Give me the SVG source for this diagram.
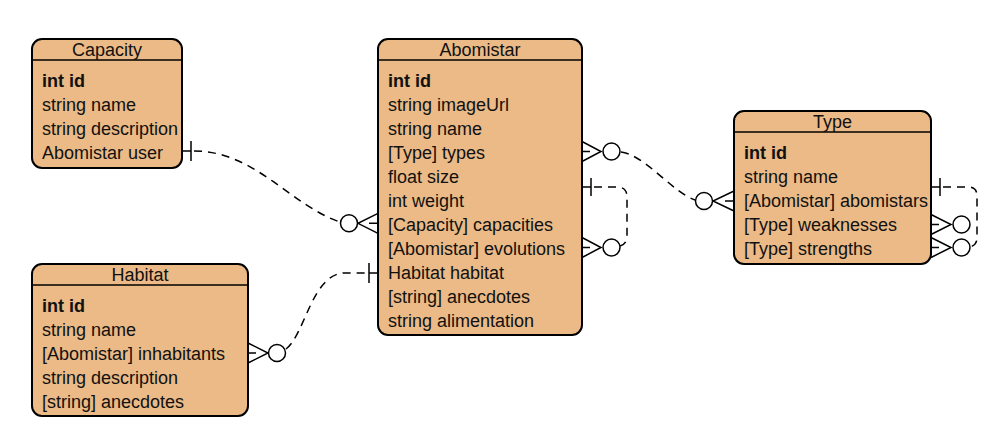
<svg xmlns="http://www.w3.org/2000/svg" width="1000" height="447" viewBox="0 0 1000 447">
<style>
.box{fill:#EBBA86;stroke:#000;stroke-width:2}
.sep{stroke:#000;stroke-width:1.6}
.t{font-family:"Liberation Sans",Arial,sans-serif;font-size:18px;fill:#111}
.h{text-anchor:middle}
.b{font-weight:bold}
.ln{fill:none;stroke:#000;stroke-width:1.5}
.dash{fill:none;stroke:#000;stroke-width:1.5;stroke-dasharray:8 6}
.circ{fill:#fff;stroke:#000;stroke-width:1.5}
</style>
<rect width="1000" height="447" fill="#fff"/>
<g id="Capacity">
<rect class="box" x="32" y="39" width="150" height="129" rx="10"/>
<line class="sep" x1="32" y1="60" x2="182" y2="60"/>
<text class="t h" x="107" y="56">Capacity</text>
<text class="t b" x="42" y="87">int id</text>
<text class="t" x="42" y="111">string name</text>
<text class="t" x="42" y="135">string description</text>
<text class="t" x="42" y="159">Abomistar user</text>
</g>
<g id="Abomistar">
<rect class="box" x="378" y="39" width="204" height="296" rx="10"/>
<line class="sep" x1="378" y1="60" x2="582" y2="60"/>
<text class="t h" x="480" y="56">Abomistar</text>
<text class="t b" x="388" y="87">int id</text>
<text class="t" x="388" y="111">string imageUrl</text>
<text class="t" x="388" y="135">string name</text>
<text class="t" x="388" y="159">[Type] types</text>
<text class="t" x="388" y="183">float size</text>
<text class="t" x="388" y="207">int weight</text>
<text class="t" x="388" y="231">[Capacity] capacities</text>
<text class="t" x="388" y="255">[Abomistar] evolutions</text>
<text class="t" x="388" y="279">Habitat habitat</text>
<text class="t" x="388" y="303">[string] anecdotes</text>
<text class="t" x="388" y="327">string alimentation</text>
</g>
<g id="Type">
<rect class="box" x="734" y="111" width="197" height="153" rx="10"/>
<line class="sep" x1="734" y1="132" x2="931" y2="132"/>
<text class="t h" x="832.5" y="128">Type</text>
<text class="t b" x="744" y="159">int id</text>
<text class="t" x="744" y="183">string name</text>
<text class="t" x="744" y="207">[Abomistar] abomistars</text>
<text class="t" x="744" y="231">[Type] weaknesses</text>
<text class="t" x="744" y="255">[Type] strengths</text>
</g>
<g id="Habitat">
<rect class="box" x="32" y="264" width="216" height="152" rx="10"/>
<line class="sep" x1="32" y1="285" x2="248" y2="285"/>
<text class="t h" x="140" y="281">Habitat</text>
<text class="t b" x="42" y="312">int id</text>
<text class="t" x="42" y="336">string name</text>
<text class="t" x="42" y="360">[Abomistar] inhabitants</text>
<text class="t" x="42" y="384">string description</text>
<text class="t" x="42" y="408">[string] anecdotes</text>
</g>
<g id="connectors">
<!-- Capacity.user -> Abomistar.capacities -->
<path class="ln" d="M182 151 L191 151 M191 141 L191 161"/>
<path class="dash" d="M194 151 C255 151 290 205 340 222"/>
<path class="ln" d="M378 213.3 L358 223.3 L378 233.3 M378 223.3 L369 223.3"/>
<circle class="circ" cx="349" cy="223.3" r="8.5"/>
<!-- Abomistar.types -> Type.abomistars -->
<path class="ln" d="M582 141.5 L601 151.5 L582 161.5 M582 151.5 L590 151.5"/>
<circle class="circ" cx="611.5" cy="151.5" r="8.5"/>
<path class="dash" d="M621 152 C645 155 672 192 695 200"/>
<path class="ln" d="M734 191 L713 201 L734 211 M734 201 L725 201"/>
<circle class="circ" cx="704" cy="201" r="8.5"/>
<!-- Abomistar self (evolutions) -->
<path class="ln" d="M582 187 L591 187 M591 178 L591 196"/>
<path class="dash" d="M594 187 L617 187 Q627 187 627 197 L627 236 Q627 244 620 246"/>
<path class="ln" d="M582 237.5 L601 247.5 L582 257.5 M582 247.5 L590 247.5"/>
<circle class="circ" cx="611.5" cy="247.5" r="8.5"/>
<!-- Habitat.inhabitants -> Abomistar.habitat -->
<path class="ln" d="M248 343 L268 353 L248 363 M248 353 L256 353"/>
<circle class="circ" cx="277" cy="353" r="8.5"/>
<path class="dash" d="M286 349 C305 335 312 273 345 273 L366 273"/>
<path class="ln" d="M369 273 L378 273 M369 263 L369 283"/>
<!-- Type self (weaknesses, strengths) -->
<path class="ln" d="M931 187 L940 187 M940 178 L940 196"/>
<path class="dash" d="M943 187 L968 187 Q977 187 977 196 L977 238 Q977 245 970 247"/>
<path class="ln" d="M931 214.5 L951 224.5 L931 234.5 M931 224.5 L939 224.5"/>
<circle class="circ" cx="961.5" cy="224.5" r="8.5"/>
<path class="ln" d="M931 237.5 L951 247.5 L931 257.5 M931 247.5 L939 247.5"/>
<circle class="circ" cx="961.5" cy="247.5" r="8.5"/>
</g>
</svg>
